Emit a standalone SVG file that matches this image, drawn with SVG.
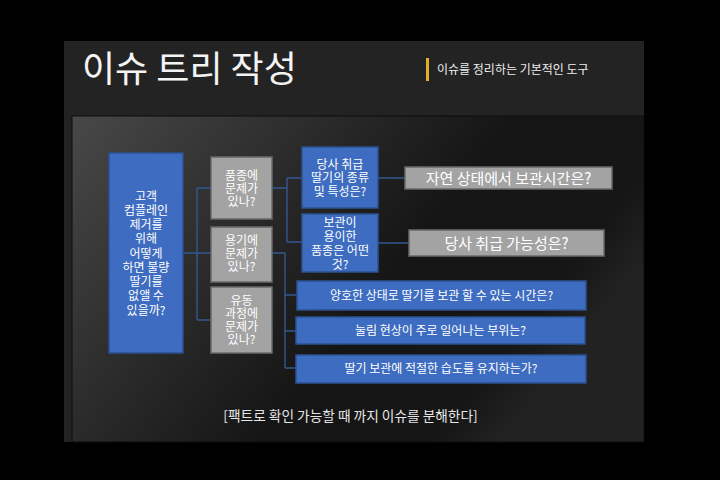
<svg xmlns="http://www.w3.org/2000/svg" width="720" height="480" viewBox="0 0 720 480">
<defs>
<linearGradient id="panelGrad" x1="0" y1="0" x2="1" y2="0.45">
<stop offset="0" stop-color="#484848"/>
<stop offset="0.35" stop-color="#2c2c2c"/>
<stop offset="0.65" stop-color="#151515"/>
<stop offset="0.9" stop-color="#161616"/>
<stop offset="1" stop-color="#222222"/>
</linearGradient>
<style>
text{font-family:"Noto Sans CJK KR","Noto Sans",sans-serif;fill:#ffffff;text-anchor:middle}
.blue{fill:#3d6cc0;stroke:#2c5191;stroke-width:1.5}
.gray{fill:#a3a3a3;stroke:#6a6a6a;stroke-width:1.5}
.s12{font-size:12px}
.s15{font-size:15px}
.conn{fill:none;stroke:#33578f;stroke-width:1.4}
</style>
</defs>
<rect x="0" y="0" width="720" height="480" fill="#000000"/>
<rect x="64" y="41" width="580" height="401" fill="#232323"/>
<rect x="72" y="116" width="572" height="326" fill="url(#panelGrad)" stroke="#0c0c0c" stroke-width="1"/>
<g id="title">
<text x="82" y="82" style="font-size:36px;text-anchor:start;fill:#f4f4f4">이슈 트리 작성</text>
<rect x="426" y="58" width="3" height="23" fill="#e0b02a"/>
<text x="437" y="74" class="s12" style="text-anchor:start;fill:#eeeeee">이슈를 정리하는 기본적인 도구</text>
</g>
<g id="connectors">
<path class="conn" d="M183 253 H197 M197 188 V320 M197 188 H211 M197 253 H211 M197 320 H211"/>
<path class="conn" d="M272 188 H287 M287 178 V242 M287 178 H302 M287 242 H302"/>
<path class="conn" d="M378 178 H405 M378 243 H409"/>
<path class="conn" d="M272 253 H285 M285 253 V368 M285 295 H297 M285 331 H296 M285 368 H296"/>
</g>
<g id="root">
<rect class="blue" x="109" y="153" width="74" height="200"/>
<text class="s12"><tspan x="146" y="200.5">고객</tspan><tspan x="146" dy="14.25">컴플레인</tspan><tspan x="146" dy="14.25">제거를</tspan><tspan x="146" dy="14.25">위해</tspan><tspan x="146" dy="14.25">어떻게</tspan><tspan x="146" dy="14.25">하면 불량</tspan><tspan x="146" dy="14.25">딸기를</tspan><tspan x="146" dy="14.25">없앨 수</tspan><tspan x="146" dy="14.25">있을까?</tspan></text>
</g>
<g id="variety">
<rect class="gray" x="211" y="157" width="61" height="62"/>
<text class="s12"><tspan x="241.5" y="179.5">품종에</tspan><tspan x="241.5" dy="13">문제가</tspan><tspan x="241.5" dy="13">있나?</tspan></text>
</g>
<g id="container">
<rect class="gray" x="211" y="227" width="61" height="55"/>
<text class="s12"><tspan x="241.5" y="245">용기에</tspan><tspan x="241.5" dy="13">문제가</tspan><tspan x="241.5" dy="13">있나?</tspan></text>
</g>
<g id="distribution">
<rect class="gray" x="211" y="287" width="61" height="66"/>
<text class="s12"><tspan x="241.5" y="305">유동</tspan><tspan x="241.5" dy="13">과정에</tspan><tspan x="241.5" dy="13">문제가</tspan><tspan x="241.5" dy="13">있나?</tspan></text>
</g>
<g id="types">
<rect class="blue" x="302" y="147" width="76" height="61"/>
<text class="s12"><tspan x="340" y="168.5">당사 취급</tspan><tspan x="340" dy="13.5">딸기의 종류</tspan><tspan x="340" dy="13.5">및 특성은?</tspan></text>
</g>
<g id="easy-storage">
<rect class="blue" x="302" y="214" width="76" height="58"/>
<text class="s12"><tspan x="340" y="226.5">보관이</tspan><tspan x="340" dy="14.3">용이한</tspan><tspan x="340" dy="14.3">품종은 어떤</tspan><tspan x="340" dy="14.3">것?</tspan></text>
</g>
<g id="natural-time">
<rect class="gray" x="405" y="167" width="207" height="22"/>
<text class="s15" x="508.5" y="183.5">자연 상태에서 보관시간은?</text>
</g>
<g id="handling">
<rect class="gray" x="409" y="230" width="195" height="26"/>
<text class="s15" x="506.5" y="248.5">당사 취급 가능성은?</text>
</g>
<g id="good-time">
<rect class="blue" x="297" y="281" width="289" height="29"/>
<text class="s12" x="441.5" y="300">양호한 상태로 딸기를 보관 할 수 있는 시간은?</text>
</g>
<g id="pressing">
<rect class="blue" x="296" y="317" width="289" height="27"/>
<text class="s12" x="440.5" y="335">눌림 현상이 주로 일어나는 부위는?</text>
</g>
<g id="humidity">
<rect class="blue" x="296" y="355" width="290" height="28"/>
<text class="s12" x="441" y="373">딸기 보관에 적절한 습도를 유지하는가?</text>
</g>
<g id="caption">
<text x="350.5" y="420.5" style="font-size:13.7px;fill:#e6e6e6">[팩트로 확인 가능할 때 까지 이슈를 분해한다]</text>
</g>
</svg>
